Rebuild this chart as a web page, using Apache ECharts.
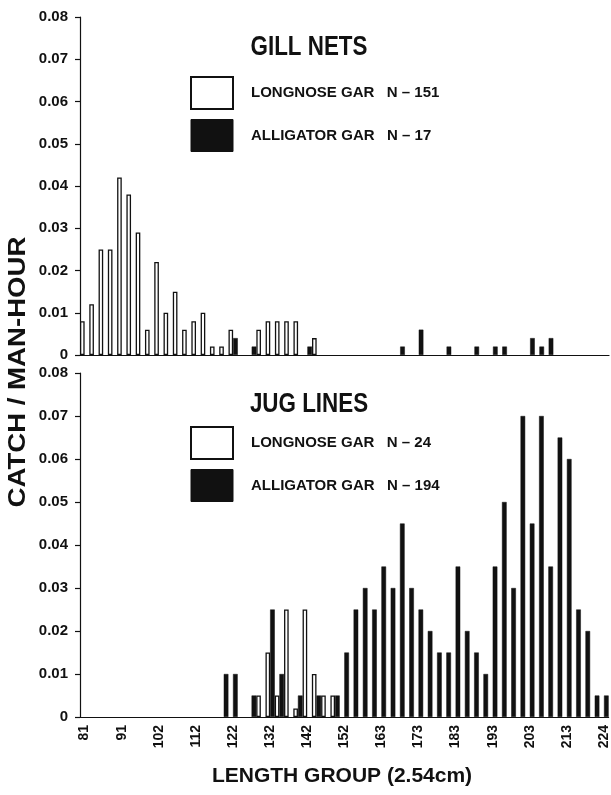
<!DOCTYPE html>
<html>
<head>
<meta charset="utf-8">
<script src="https://cdn.jsdelivr.net/npm/echarts@6/dist/echarts.min.js"></script>
<style>
  html, body { margin: 0; padding: 0; background: #fff; }
  #chart { width: 611px; height: 795px; }
</style>
</head>
<body>
<div id="chart"></div>
<script>
// length groups in inches (1 in = 2.54 cm), 32 .. 88
const lengthGroups = [
  32, 33, 34, 35, 36, 37, 38, 39, 40, 41, 42, 43, 44, 45, 46, 47, 48, 49, 50,
  51, 52, 53, 54, 55, 56, 57, 58, 59, 60, 61, 62, 63, 64, 65, 66, 67, 68, 69,
  70, 71, 72, 73, 74, 75, 76, 77, 78, 79, 80, 81, 82, 83, 84, 85, 86, 87, 88
]
// tick labels in cm, one every 4th group
const tickLabels = ['81', '91', '102', '112', '122', '132', '142', '152', '163', '173', '183', '193', '203', '213', '224']
const yTicks = [0, 0.01, 0.02, 0.03, 0.04, 0.05, 0.06, 0.07, 0.08]

// gill nets, catch / man-hour
const gillLongnose = [
  0.008, 0.012, 0.025, 0.025, 0.042, 0.038, 0.029, 0.006, 0.022, 0.010,
  0.015, 0.006, 0.008, 0.010, 0.002, 0.002, 0.006, 0, 0, 0.006,
  0.008, 0.008, 0.008, 0.008, 0, 0.004, 0, 0, 0, 0,
  0, 0, 0, 0, 0, 0, 0, 0, 0, 0,
  0, 0, 0, 0, 0, 0, 0, 0, 0, 0,
  0, 0, 0, 0, 0, 0, 0
]
const gillAlligator = [
  0, 0, 0, 0, 0, 0, 0, 0, 0, 0,
  0, 0, 0, 0, 0, 0, 0.004, 0, 0.002, 0,
  0, 0, 0, 0, 0.002, 0, 0, 0, 0, 0,
  0, 0, 0, 0, 0.002, 0, 0.006, 0, 0, 0.002,
  0, 0, 0.002, 0, 0.002, 0.002, 0, 0, 0.004, 0.002,
  0.004, 0, 0, 0, 0, 0, 0
]
// jug lines, catch / man-hour
const jugLongnose = [
  0, 0, 0, 0, 0, 0, 0, 0, 0, 0,
  0, 0, 0, 0, 0, 0, 0, 0, 0, 0.005,
  0.015, 0.005, 0.025, 0.002, 0.025, 0.010, 0.005, 0.005, 0, 0,
  0, 0, 0, 0, 0, 0, 0, 0, 0, 0,
  0, 0, 0, 0, 0, 0, 0, 0, 0, 0,
  0, 0, 0, 0, 0, 0, 0
]
const jugAlligator = [
  0, 0, 0, 0, 0, 0, 0, 0, 0, 0,
  0, 0, 0, 0, 0, 0.010, 0.010, 0, 0.005, 0,
  0.025, 0.010, 0, 0.005, 0, 0.005, 0, 0.005, 0.015, 0.025,
  0.030, 0.025, 0.035, 0.030, 0.045, 0.030, 0.025, 0.020, 0.015, 0.015,
  0.035, 0.020, 0.015, 0.010, 0.035, 0.050, 0.030, 0.070, 0.045, 0.070,
  0.035, 0.065, 0.060, 0.025, 0.020, 0.005, 0.005
]

const INK = '#111'
const FONT = "'Liberation Sans', Arial, sans-serif"

const chart = echarts.init(document.getElementById('chart'), null, { renderer: 'canvas' })

const grids = [
  { left: 80, right: 2, top: 17, bottom: 440 },
  { left: 80, right: 2, top: 373, bottom: 78 }
]

const mainX = (gridIndex, showLabels) => ({
  type: 'category',
  gridIndex,
  data: lengthGroups,
  boundaryGap: true,
  axisLine: { lineStyle: { color: INK, width: 1.2 } },
  axisTick: { interval: 0, alignWithLabel: true, length: 5, lineStyle: { color: INK, width: 1.2 } },
  axisLabel: {
    show: showLabels,
    interval: 3,
    rotate: 90,
    margin: 8,
    color: INK,
    fontFamily: FONT,
    fontWeight: 'bold',
    fontSize: 14,
    formatter: (v, i) => tickLabels[i / 4]
  },
  splitLine: { show: false }
})

// longer ticks crossing the axis at every labelled group
const majorX = (gridIndex) => ({
  type: 'category',
  gridIndex,
  data: lengthGroups,
  position: 'bottom',
  axisLine: { show: false },
  axisTick: { interval: 3, alignWithLabel: true, inside: true, length: 5, lineStyle: { color: INK, width: 1.2 } },
  axisLabel: { show: false },
  splitLine: { show: false }
})

const yAxis = (gridIndex) => ({
  type: 'value',
  gridIndex,
  min: 0,
  max: 0.08,
  interval: 0.01,
  axisLine: { show: true, lineStyle: { color: INK, width: 1.2 } },
  axisTick: { show: true, length: 5, lineStyle: { color: INK, width: 1.2 } },
  axisLabel: {
    color: INK,
    fontFamily: FONT,
    fontWeight: 'bold',
    fontSize: 15,
    margin: 12,
    formatter: v => (v === 0 ? '0' : yTicks[Math.round(v * 100)].toFixed(2))
  },
  splitLine: { show: false }
})

const white = { color: '#fff', borderColor: INK, borderWidth: 1.3 }
const black = { color: INK, borderColor: INK, borderWidth: 0.5 }

const bars = (name, values, xi, yi, style) => ({
  name,
  type: 'bar',
  xAxisIndex: xi,
  yAxisIndex: yi,
  data: values.map(v => (v > 0 ? v : '-')),
  barGap: '0%',
  barCategoryGap: '0%',
  itemStyle: style,
  emphasis: { disabled: true },
  silent: true,
  animation: false
})

const legend = (top, names) => ({
  orient: 'vertical',
  left: 190,
  top,
  padding: 0,
  itemWidth: 42,
  itemHeight: 32,
  itemGap: 9,
  selectedMode: false,
  icon: 'rect',
  textStyle: {
    color: INK,
    fontFamily: FONT,
    fontWeight: 'bold',
    fontSize: 15,
    padding: [0, 0, 0, 13]
  },
  data: [
    { name: names[0], itemStyle: { color: '#fff', borderColor: INK, borderWidth: 2 } },
    { name: names[1], itemStyle: { color: INK, borderColor: INK, borderWidth: 1 } }
  ]
})

const titleText = (text, y) => ({
  type: 'text',
  x: 309,
  y,
  scaleX: 0.8,
  style: {
    text,
    fill: INK,
    font: "bold 28px 'Liberation Sans', Arial, sans-serif",
    align: 'center',
    verticalAlign: 'middle'
  }
})

const option = {
  backgroundColor: '#fff',
  animation: false,
  grid: grids,
  legend: [
    legend(76, ['LONGNOSE GAR   N – 151', 'ALLIGATOR GAR   N – 17']),
    legend(426, ['LONGNOSE GAR   N – 24', 'ALLIGATOR GAR   N – 194'])
  ],
  xAxis: [mainX(0, false), majorX(0), mainX(1, true), majorX(1)],
  yAxis: [yAxis(0), yAxis(1)],
  series: [
    bars('LONGNOSE GAR   N – 151', gillLongnose, 0, 0, white),
    bars('ALLIGATOR GAR   N – 17', gillAlligator, 0, 0, black),
    bars('LONGNOSE GAR   N – 24', jugLongnose, 2, 1, white),
    bars('ALLIGATOR GAR   N – 194', jugAlligator, 2, 1, black)
  ],
  graphic: [
    titleText('GILL NETS', 47),
    titleText('JUG LINES', 404),
    {
      type: 'text',
      x: 19,
      y: 372,
      rotation: Math.PI / 2,
      scaleX: 1.2,
      style: {
        text: 'CATCH / MAN-HOUR',
        fill: INK,
        font: "bold 23px 'Liberation Sans', Arial, sans-serif",
        align: 'center',
        verticalAlign: 'middle'
      }
    },
    {
      type: 'text',
      x: 342,
      y: 776,
      style: {
        text: 'LENGTH GROUP (2.54cm)',
        fill: INK,
        font: "bold 21px 'Liberation Sans', Arial, sans-serif",
        align: 'center',
        verticalAlign: 'middle'
      }
    }
  ]
}

chart.setOption(option)
window.addEventListener('resize', () => chart.resize())
</script>
</body>
</html>
